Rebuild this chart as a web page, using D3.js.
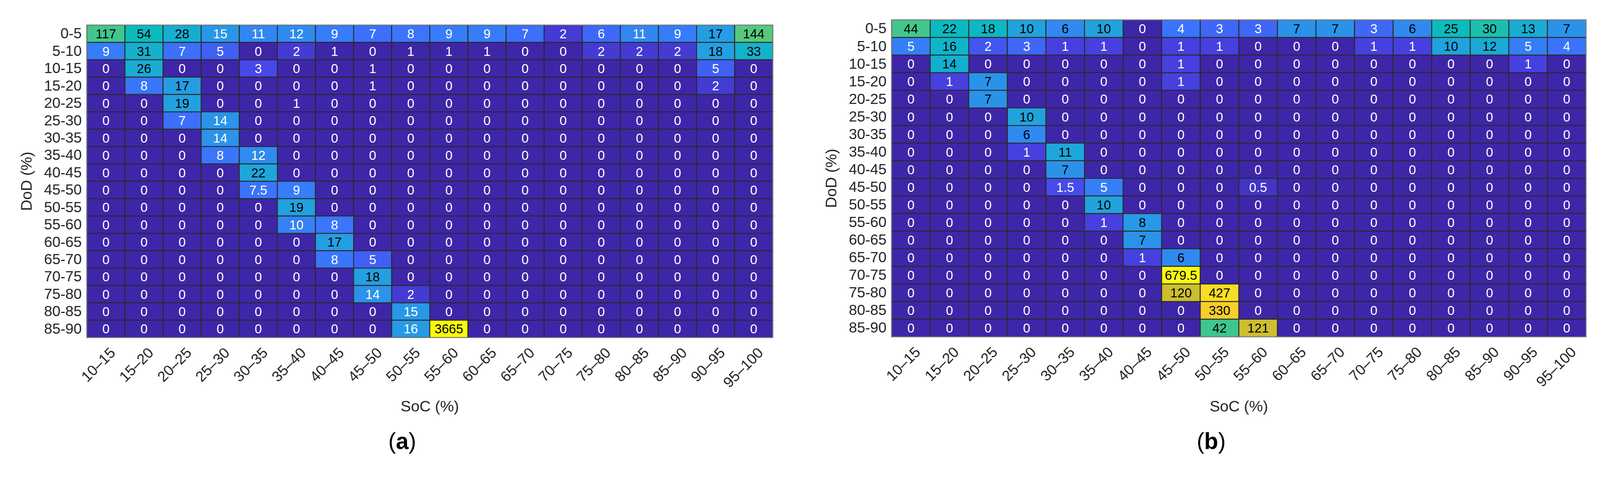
<!DOCTYPE html>
<html>
<head>
<meta charset="utf-8">
<script src="https://cdn.jsdelivr.net/npm/d3@7"></script>
<style>
  html, body { margin: 0; padding: 0; background: #fff; overflow: hidden; }
  svg { display: block; }
  text { font-family: "Liberation Sans", Arial, sans-serif; }
</style>
</head>
<body>
<div id="chart"></div>
<script>
const socBins = ['10–15','15–20','20–25','25–30','30–35','35–40','40–45','45–50','50–55',
  '55–60','60–65','65–70','70–75','75–80','80–85','85–90','90–95','95–100'];
const dodBins = ['0-5','5-10','10-15','15-20','20-25','25-30','30-35','35-40','40-45',
  '45-50','50-55','55-60','60-65','65-70','70-75','75-80','80-85','85-90'];

// (a) cycle counts, rows = DoD, columns = SoC
const countsA = [
  [117,54,28,15,11,12,9,7,8,9,9,7,2,6,11,9,17,144],
  [9,31,7,5,0,2,1,0,1,1,1,0,0,2,2,2,18,33],
  [0,26,0,0,3,0,0,1,0,0,0,0,0,0,0,0,5,0],
  [0,8,17,0,0,0,0,1,0,0,0,0,0,0,0,0,2,0],
  [0,0,19,0,0,1,0,0,0,0,0,0,0,0,0,0,0,0],
  [0,0,7,14,0,0,0,0,0,0,0,0,0,0,0,0,0,0],
  [0,0,0,14,0,0,0,0,0,0,0,0,0,0,0,0,0,0],
  [0,0,0,8,12,0,0,0,0,0,0,0,0,0,0,0,0,0],
  [0,0,0,0,22,0,0,0,0,0,0,0,0,0,0,0,0,0],
  [0,0,0,0,7.5,9,0,0,0,0,0,0,0,0,0,0,0,0],
  [0,0,0,0,0,19,0,0,0,0,0,0,0,0,0,0,0,0],
  [0,0,0,0,0,10,8,0,0,0,0,0,0,0,0,0,0,0],
  [0,0,0,0,0,0,17,0,0,0,0,0,0,0,0,0,0,0],
  [0,0,0,0,0,0,8,5,0,0,0,0,0,0,0,0,0,0],
  [0,0,0,0,0,0,0,18,0,0,0,0,0,0,0,0,0,0],
  [0,0,0,0,0,0,0,14,2,0,0,0,0,0,0,0,0,0],
  [0,0,0,0,0,0,0,0,15,0,0,0,0,0,0,0,0,0],
  [0,0,0,0,0,0,0,0,16,3665,0,0,0,0,0,0,0,0]
];

// (b)
const countsB = [
  [44,22,18,10,6,10,0,4,3,3,7,7,3,6,25,30,13,7],
  [5,16,2,3,1,1,0,1,1,0,0,0,1,1,10,12,5,4],
  [0,14,0,0,0,0,0,1,0,0,0,0,0,0,0,0,1,0],
  [0,1,7,0,0,0,0,1,0,0,0,0,0,0,0,0,0,0],
  [0,0,7,0,0,0,0,0,0,0,0,0,0,0,0,0,0,0],
  [0,0,0,10,0,0,0,0,0,0,0,0,0,0,0,0,0,0],
  [0,0,0,6,0,0,0,0,0,0,0,0,0,0,0,0,0,0],
  [0,0,0,1,11,0,0,0,0,0,0,0,0,0,0,0,0,0],
  [0,0,0,0,7,0,0,0,0,0,0,0,0,0,0,0,0,0],
  [0,0,0,0,1.5,5,0,0,0,0.5,0,0,0,0,0,0,0,0],
  [0,0,0,0,0,10,0,0,0,0,0,0,0,0,0,0,0,0],
  [0,0,0,0,0,1,8,0,0,0,0,0,0,0,0,0,0,0],
  [0,0,0,0,0,0,7,0,0,0,0,0,0,0,0,0,0,0],
  [0,0,0,0,0,0,1,6,0,0,0,0,0,0,0,0,0,0],
  [0,0,0,0,0,0,0,679.5,0,0,0,0,0,0,0,0,0,0],
  [0,0,0,0,0,0,0,120,427,0,0,0,0,0,0,0,0,0],
  [0,0,0,0,0,0,0,0,330,0,0,0,0,0,0,0,0,0],
  [0,0,0,0,0,0,0,0,42,121,0,0,0,0,0,0,0,0]
];

// parula-like colormap
const parula = d3.scaleLinear()
  .domain([0, 0.125, 0.25, 0.35, 0.45, 0.5, 0.6, 0.68, 0.75, 0.9, 1])
  .range(['#3e26a8','#4745e7','#3b75fd','#249fe2','#0cb8c4','#0abcbc',
          '#4ec882','#b4c33a','#d4bd2c','#fbcf2a','#f9fb0e'])
  .clamp(true);

const W = 4348, H = 1277;
const svg = d3.select('#chart').append('svg')
  .attr('viewBox', `0 0 ${W} ${H}`)
  .attr('preserveAspectRatio', 'xMinYMin meet')
  .style('width', '100vw')
  .style('height', (100 * H / W) + 'vw');

function heatmap(opt) {
  const { data, left, right, top, bottom, tmap, blackAt, tag } = opt;
  const g = svg.append('g');

  const x = d3.scaleBand().domain(socBins).range([left, right]);
  const y = d3.scaleBand().domain(dodBins).range([top, bottom]);

  const cells = [];
  data.forEach((row, i) => row.forEach((v, j) => cells.push({ r: dodBins[i], c: socBins[j], v })));

  g.selectAll('rect.cell').data(cells).enter().append('rect')
    .attr('x', d => x(d.c)).attr('y', d => y(d.r))
    .attr('width', x.bandwidth()).attr('height', y.bandwidth())
    .attr('fill', d => parula(tmap(d.v)))
    .attr('stroke', '#2a2a2a').attr('stroke-width', 2.5);

  g.selectAll('text.val').data(cells).enter().append('text')
    .attr('x', d => x(d.c) + x.bandwidth() / 2)
    .attr('y', d => y(d.r) + y.bandwidth() / 2)
    .attr('dy', '0.36em')
    .attr('text-anchor', 'middle')
    .attr('font-size', 35)
    .attr('fill', d => tmap(d.v) >= blackAt ? '#000' : '#fff')
    .text(d => d.v);

  g.append('rect')
    .attr('x', left).attr('y', top)
    .attr('width', right - left).attr('height', bottom - top)
    .attr('fill', 'none').attr('stroke', '#888').attr('stroke-width', 2);

  // y axis labels
  g.append('g')
    .attr('transform', `translate(${left - 14},0)`)
    .call(d3.axisLeft(y).tickSize(0).tickPadding(0))
    .call(a => a.select('.domain').remove())
    .selectAll('text')
    .attr('font-size', 40).attr('fill', '#262626')
    .attr('font-family', '"Liberation Sans", Arial, sans-serif');

  // x axis labels, rotated
  g.append('g')
    .attr('transform', `translate(0,${bottom})`)
    .call(d3.axisBottom(x).tickSize(0).tickPadding(0))
    .call(a => a.select('.domain').remove())
    .selectAll('text')
    .attr('font-size', 40).attr('fill', '#262626')
    .attr('font-family', '"Liberation Sans", Arial, sans-serif')
    .attr('text-anchor', 'end')
    .attr('dy', null)
    .attr('transform', 'translate(28,44) rotate(-45)');

  const cx = (left + right) / 2;
  g.append('text').attr('x', cx).attr('y', 1118)
    .attr('text-anchor', 'middle').attr('font-size', 42).attr('fill', '#262626')
    .text('SoC (%)');

  g.append('text')
    .attr('transform', `translate(${left - 150},${(top + bottom) / 2}) rotate(-90)`)
    .attr('text-anchor', 'middle').attr('font-size', 42).attr('fill', '#262626')
    .text('DoD (%)');

  const lab = g.append('text').attr('x', cx - 75).attr('y', 1220)
    .attr('text-anchor', 'middle').attr('font-size', 62)
    .attr('font-family', '"Liberation Serif", "Times New Roman", serif');
  lab.append('tspan').text('(');
  lab.append('tspan').attr('font-weight', 'bold').text(tag);
  lab.append('tspan').text(')');
}

const maxA = d3.max(countsA.flat());
const maxB = d3.max(countsB.flat());

heatmap({
  data: countsA, left: 236, right: 2100, top: 68, bottom: 917, tag: 'a',
  tmap: v => Math.log(Math.max(v, 1)) / Math.log(maxA), blackAt: 0.342
});
heatmap({
  data: countsB, left: 2423, right: 4310, top: 54, bottom: 915, tag: 'b',
  tmap: v => Math.log1p(v) / Math.log1p(maxB), blackAt: 0.29
});
</script>
</body>
</html>
